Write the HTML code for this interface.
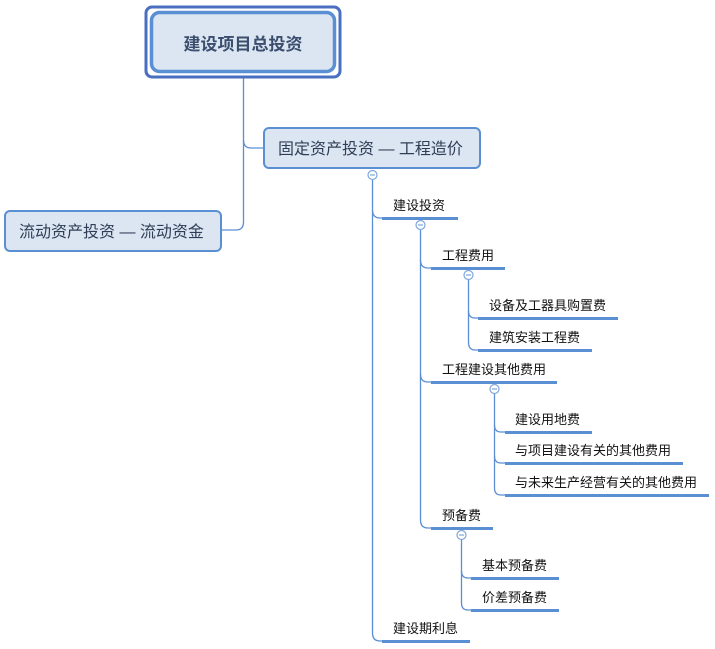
<!DOCTYPE html>
<html><head><meta charset="utf-8"><style>
html,body{margin:0;padding:0;background:#fff;width:715px;height:649px;overflow:hidden}
svg{display:block}
text{font-family:"Liberation Sans","Noto Sans CJK SC",sans-serif;}
</style></head><body>
<svg width="715" height="649" viewBox="0 0 715 649" xmlns="http://www.w3.org/2000/svg">
<g fill="none" stroke="#5b8fd4" stroke-width="1.3">
<path d="M243.5 78 V140 Q243.5 148 251 148 H264"/>
<path d="M243.5 140 V222 Q243.5 230 236 230 H221"/>
<path d="M372.5 180 V633 Q372.5 641 380 641 H384"/>
<path d="M372.5 210 Q372.5 218 380 218 H384"/>
<path d="M420.5 230 V520 Q420.5 528 428 528 H432"/>
<path d="M420.5 260 Q420.5 268 428 268 H432"/>
<path d="M420.5 374 Q420.5 382 428 382 H432"/>
<path d="M468.5 280 V342 Q468.5 350 475 350 H479"/>
<path d="M468.5 311 Q468.5 318 475 318 H479"/>
<path d="M494.5 394 V488 Q494.5 495 501 495 H505"/>
<path d="M494.5 425 Q494.5 432 501 432 H505"/>
<path d="M494.5 456 Q494.5 463 501 463 H505"/>
<path d="M461.5 540 V603 Q461.5 610 468 610 H472"/>
<path d="M461.5 571 Q461.5 578 468 578 H472"/>
</g>
<g fill="#5b8fd4">
<rect x="382" y="217" width="76" height="3"/>
<rect x="431" y="267" width="74" height="3"/>
<rect x="478" y="317" width="140" height="3"/>
<rect x="478" y="349" width="114" height="3"/>
<rect x="431" y="381" width="126" height="3"/>
<rect x="505" y="431" width="87" height="3"/>
<rect x="505" y="462" width="178" height="3"/>
<rect x="505" y="494" width="204" height="3"/>
<rect x="431" y="527" width="62" height="3"/>
<rect x="471" y="577" width="88" height="3"/>
<rect x="471" y="609" width="88" height="3"/>
<rect x="382" y="640" width="88" height="3"/>
</g>
<g fill="#fff" stroke="#7fa6dc" stroke-width="1.2">
<circle cx="372.5" cy="175" r="4.5"/>
<circle cx="420.5" cy="225" r="4.5"/>
<circle cx="468.5" cy="275" r="4.5"/>
<circle cx="494.5" cy="389" r="4.5"/>
<circle cx="461.5" cy="535" r="4.5"/>
</g>
<g stroke="#7fa6dc" stroke-width="1.2">
<line x1="370" y1="175" x2="375" y2="175"/>
<line x1="418" y1="225" x2="423" y2="225"/>
<line x1="466" y1="275" x2="471" y2="275"/>
<line x1="492" y1="389" x2="497" y2="389"/>
<line x1="459" y1="535" x2="464" y2="535"/>
</g>
<rect x="146" y="7" width="194" height="70" rx="6" fill="#fff" stroke="#4a6fc0" stroke-width="3"/>
<rect x="151.5" y="12.5" width="183" height="59" rx="8" fill="#dce6f2" stroke="#5b8fd4" stroke-width="3.5"/>
<text x="243" y="50" text-anchor="middle" font-size="17" font-weight="bold" fill="#3b4e6e">建设项目总投资</text>
<rect x="264" y="128" width="216" height="40" rx="5" fill="#dce6f2" stroke="#5b8fd4" stroke-width="2"/>
<text x="278" y="154" font-size="16" fill="#2f3e56">固定资产投资 — 工程造价</text>
<rect x="5" y="211" width="216" height="40" rx="5" fill="#dce6f2" stroke="#5b8fd4" stroke-width="2"/>
<text x="19" y="237" font-size="16" fill="#2f3e56">流动资产投资 — 流动资金</text>
<g font-size="13" fill="#111">
<text x="393" y="210">建设投资</text>
<text x="442" y="260">工程费用</text>
<text x="489" y="310">设备及工器具购置费</text>
<text x="489" y="342">建筑安装工程费</text>
<text x="442" y="374">工程建设其他费用</text>
<text x="515" y="424">建设用地费</text>
<text x="515" y="455">与项目建设有关的其他费用</text>
<text x="515" y="487">与未来生产经营有关的其他费用</text>
<text x="442" y="520">预备费</text>
<text x="482" y="570">基本预备费</text>
<text x="482" y="602">价差预备费</text>
<text x="393" y="633">建设期利息</text>
</g>
</svg>
</body></html>
